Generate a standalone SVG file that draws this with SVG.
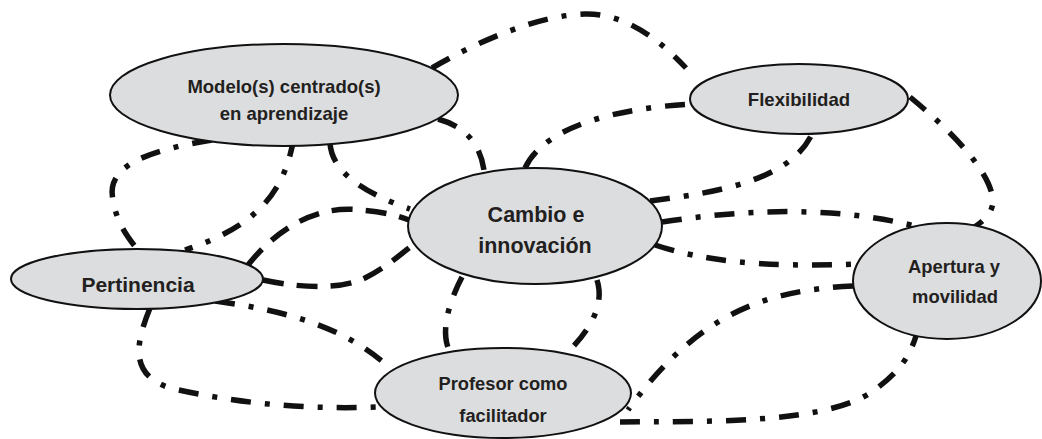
<svg xmlns="http://www.w3.org/2000/svg" width="1042" height="439" viewBox="0 0 1042 439">
<style>
.node ellipse{fill:#dcdddf;stroke:#111;stroke-width:2}
.node text{font-family:"Liberation Sans",Arial,sans-serif;font-weight:bold;fill:#231f20;text-anchor:middle}
.c{fill:none;stroke:#111;stroke-width:5.5;stroke-linecap:butt}
.dd{stroke-dasharray:20 14 5 14}
.da{stroke-dasharray:21 13}
</style>
<rect width="1042" height="439" fill="#fff"/>
<g id="connectors">
<path class="c dd" d="M432,68 C480,40 540,15 585,14 C625,13 660,40 686,68"/>
<path class="c dd" d="M438,119 Q478,130 484,170"/>
<path class="c dd" d="M294,137 C285,190 260,225 185,250"/>
<path class="c dd" d="M212,140 C150,150 105,165 113,200 C117,225 130,240 137,249"/>
<path class="c dd" d="M330,143 C332,175 370,195 410,209"/>
<path class="c da" d="M248,265 C280,225 320,205 360,210 C385,212 398,216 409,220"/>
<path class="c da" d="M263,280 C300,288 340,290 365,278 C385,268 400,255 414,244"/>
<path class="c dd" d="M215,301 C280,310 345,325 392,370"/>
<path class="c dd" d="M150,308 C135,345 130,375 170,388 C230,402 300,410 377,407"/>
<path class="c dd" d="M462,277 C450,300 440,330 449,350"/>
<path class="c dd" d="M597,280 C605,305 590,330 568,352"/>
<path class="c dd" d="M650,201 C720,192 790,180 812,134"/>
<path class="c dd" d="M525,168 C545,125 620,108 692,104"/>
<path class="c dd" d="M910,97 C950,130 990,170 993,200 C993,215 980,225 962,234"/>
<path class="c dd" d="M662,222 C740,210 830,205 915,226"/>
<path class="c dd" d="M655,245 C700,260 760,268 857,264"/>
<path class="c dd" d="M853,286 C770,290 700,310 628,410"/>
<path class="c dd" d="M620,422 C700,421 820,425 870,393 C900,373 910,355 916,336"/>
</g>
<g id="modelo" class="node">
<ellipse cx="284" cy="95" rx="174" ry="51"/>
<text x="284" y="93" font-size="18.5">Modelo(s) centrado(s)</text>
<text x="284" y="120" font-size="18.5">en aprendizaje</text>
</g>
<g id="flexibilidad" class="node">
<ellipse cx="799" cy="99" rx="109" ry="35"/>
<text x="799" y="106" font-size="18.6">Flexibilidad</text>
</g>
<g id="cambio" class="node">
<ellipse cx="535" cy="226" rx="127" ry="58"/>
<text x="536" y="222" font-size="21.5">Cambio e</text>
<text x="535" y="253" font-size="21.5">innovación</text>
</g>
<g id="pertinencia" class="node">
<ellipse cx="137" cy="279" rx="126" ry="30"/>
<text x="138" y="292" font-size="21">Pertinencia</text>
</g>
<g id="profesor" class="node">
<ellipse cx="503" cy="393" rx="128" ry="45"/>
<text x="503" y="390" font-size="18.3">Profesor como</text>
<text x="503" y="422" font-size="18.3">facilitador</text>
</g>
<g id="apertura" class="node">
<ellipse cx="947" cy="281" rx="94" ry="58"/>
<text x="954" y="273" font-size="18.4">Apertura y</text>
<text x="955" y="303" font-size="18.4">movilidad</text>
</g>
</svg>
